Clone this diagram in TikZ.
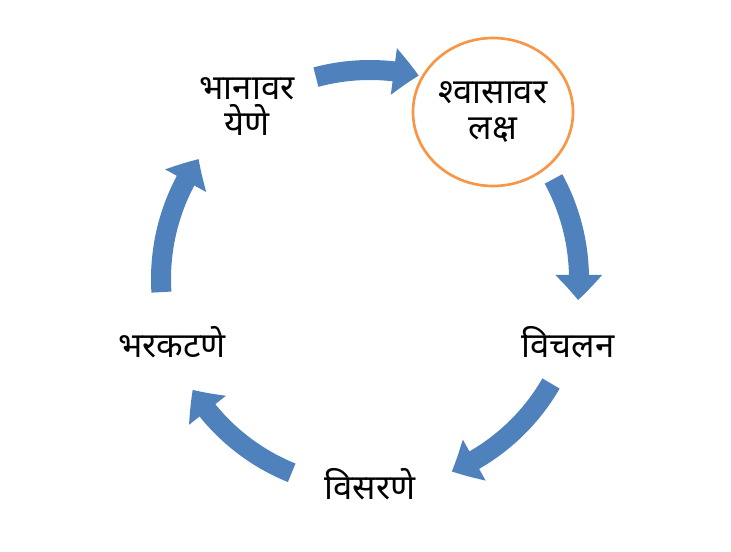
\documentclass[tikz,border=0pt]{standalone}
\usepackage{fontspec}
\newfontfamily\devfont[Script=Devanagari]{Noto Sans}
\usetikzlibrary{arrows.meta,bending,shapes.geometric}
\definecolor{cycblue}{RGB}{79,129,189}
\definecolor{cycorange}{RGB}{247,150,70}

\begin{document}
\begin{tikzpicture}[x=0.75pt,y=0.75pt,
    lbl/.style={font=\devfont\fontsize{26}{27}\selectfont, align=center, text=black, inner sep=0pt},
    cyc/.style={cycblue, line width=15pt, -{Triangle[width=34pt,length=19pt,bend]}}]
            \useasboundingbox (0,0) rectangle (731,551);
            \coordinate (c) at (370,272);

            \node[lbl] (bhan) at (247,444) {भानावर\\येणे};
            \node[lbl, ellipse, draw=cycorange, line width=2pt, minimum width=120pt, minimum height=111pt] (swas) at (493,439) {श्वासावर\\लक्ष};
            \node[lbl] (vich) at (568,209) {विचलन};
            \node[lbl] (visa) at (370,67) {विसरणे};
            \node[lbl] (bhar) at (172,209) {भरकटणे};

            \draw[cyc] ([shift={(105:209)}]c) arc[start angle=105, end angle=76.5, radius=209];
            \draw[cyc] ([shift={(28.6:209)}]c) arc[start angle=28.6, end angle=-5.8, radius=209];
            \draw[cyc] ([shift={(-30:209)}]c) arc[start angle=-30, end angle=-67, radius=209];
            \draw[cyc] ([shift={(-112:209)}]c) arc[start angle=-112, end angle=-148, radius=209];
            \draw[cyc] ([shift={(183.6:209)}]c) arc[start angle=183.6, end angle=145, radius=209];
        \end{tikzpicture}
\end{document}
